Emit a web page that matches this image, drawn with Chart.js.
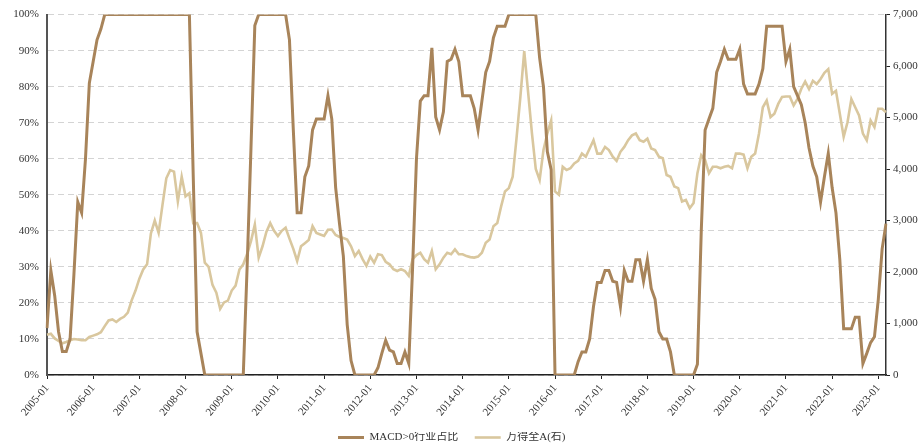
<!DOCTYPE html>
<html>
<head>
<meta charset="utf-8">
<script src="https://cdn.jsdelivr.net/npm/chart.js@4/dist/chart.umd.min.js"></script>
<style>
  html, body { margin: 0; padding: 0; background: #fff; }
  #wrap { width: 920px; height: 444px; }
</style>
</head>
<body>
<div id="wrap"><canvas id="macdChart" width="920" height="444"></canvas></div>
<script>
// month labels 2005-01 .. 2023-03
const firstYear = 2005;
const lastYear = 2023;
const lastMonth = 3;
const months = [];
for (let y = firstYear; y <= lastYear; y++) {
  for (let m = 1; m <= 12; m++) {
    if (y === lastYear && m > lastMonth) break;
    months.push(y + "-" + String(m).padStart(2, "0"));
  }
}

// MACD>0 share of industries, % (left axis)
const macdShare = [
  13, 29, 22, 12, 6.5, 6.5, 10, 28, 48, 45, 60, 81,                 // 2005
  87, 93, 96, 100, 100, 100, 100, 100, 100, 100, 100, 100,          // 2006
  100, 100, 100, 100, 100, 100, 100, 100, 100, 100, 100, 100,       // 2007
  100, 100, 55, 12, 6, 0, 0, 0, 0, 0, 0, 0,                         // 2008
  0, 0, 0, 0, 30, 63, 97, 100, 100, 100, 100, 100,                  // 2009
  100, 100, 100, 93, 68, 45, 45, 55, 58, 68, 71, 71,                // 2010
  71, 77.5, 71, 52, 42, 33, 14, 4, 0, 0, 0, 0,                      // 2011
  0, 0, 2, 6, 9.6, 6.9, 6.4, 3.2, 3.2, 6.4, 3.2, 30,                // 2012
  60, 76, 77.5, 77.5, 90.8, 71.6, 68, 73, 87, 87.6, 90.4, 87,       // 2013
  77.5, 77.5, 77.5, 74, 68, 76, 84, 87, 93.6, 96.8, 96.8, 96.8,     // 2014
  100, 100, 100, 100, 100, 100, 100, 100, 88, 80, 62, 57,           // 2015
  0, 0, 0, 0, 0, 0, 3.7, 6.4, 6.4, 10, 19, 25.7,                    // 2016
  25.7, 29, 29, 26, 25.7, 19, 29, 26, 26, 32, 32, 26,               // 2017
  32, 24, 21, 12, 10, 10, 6.4, 0, 0, 0, 0, 0,                       // 2018
  0, 3, 40, 68, 71, 74, 84, 87, 90.4, 87.6, 87.6, 87.6,             // 2019
  90.4, 80.7, 78, 78, 78, 80.7, 85, 96.8, 96.8, 96.8, 96.8, 96.8,   // 2020
  87, 90.4, 80, 77.5, 75, 70, 63, 58, 55, 48, 55, 61.5,             // 2021
  52, 45, 32, 12.8, 12.8, 12.8, 16, 16, 3.2, 6, 9, 10.6,            // 2022
  21, 35, 42                                                        // 2023
];

// Wind All A index (right axis)
const windA = [
  780, 800, 710, 660, 615, 640, 675, 700, 690, 675, 675, 740,
  765, 790, 830, 950, 1060, 1080, 1030, 1090, 1130, 1210, 1450, 1640,
  1870, 2050, 2150, 2750, 3000, 2760, 3300, 3820, 3980, 3950, 3370, 3850,
  3470, 3530, 2950, 2950, 2760, 2180, 2100, 1750, 1600, 1285, 1410, 1445,
  1640, 1735, 2050, 2150, 2350, 2600, 2920, 2280, 2500, 2780, 2950, 2800,
  2700, 2800, 2860, 2650, 2450, 2215, 2500, 2560, 2620, 2890, 2760, 2730,
  2700, 2820, 2825, 2720, 2680, 2660, 2630, 2500, 2310, 2410, 2250, 2120,
  2300, 2180, 2345, 2330, 2200, 2150, 2055, 2020, 2055, 2020, 1925, 2250,
  2330, 2375, 2250, 2180, 2410, 2055, 2150, 2280, 2375, 2345, 2440, 2345,
  2345, 2310, 2290, 2280, 2300, 2375, 2570, 2630, 2890, 2950, 3275, 3565,
  3630, 3850, 4600, 5400, 6290, 5500, 4700, 4000, 3790, 4370, 4690, 4945,
  3565, 3500, 4045, 3980, 4015, 4110, 4160, 4300, 4240, 4400, 4560, 4300,
  4300, 4430, 4370, 4240, 4160, 4335, 4430, 4560, 4655, 4690, 4560, 4530,
  4590, 4400, 4370, 4240, 4210, 3885, 3850, 3660, 3630, 3370, 3400, 3240,
  3340, 3920, 4270, 4175, 3920, 4045, 4045, 4015, 4045, 4060, 4015, 4300,
  4300, 4280, 4015, 4240, 4300, 4690, 5200, 5330, 5010, 5075, 5265, 5400,
  5410, 5410, 5235, 5360, 5560, 5700, 5555, 5715, 5650, 5750, 5870, 5940,
  5460, 5520, 5075, 4625, 4910, 5360, 5200, 5040, 4690, 4560, 4945, 4815,
  5170, 5170, 5105
];

const seriesNames = ["MACD>0行业占比", "万得全A(右)"];
const leftTicks = { min: 0, max: 100, step: 10 };
const rightTicks = { min: 0, max: 7000, step: 1000 };

const darkColor = "#a8845a";
const lightColor = "#d9c79e";
const fontFamily = '"Liberation Serif", "Noto Sans CJK SC", serif';
const textColor = "#333";

// nudge the legend down a little, closer to the bottom edge
const legendShift = {
  id: "legendShift",
  afterLayout(chart) {
    if (chart.legend) {
      chart.legend.top += 9;
      chart.legend.bottom += 9;
    }
  },
};

const ctx = document.getElementById("macdChart").getContext("2d");
new Chart(ctx, {
  type: "line",
  data: {
    labels: months,
    datasets: [
      {
        label: seriesNames[0],
        data: macdShare,
        yAxisID: "yLeft",
        borderColor: darkColor,
        backgroundColor: darkColor,
        borderWidth: 3,
        pointRadius: 0,
        tension: 0,
      },
      {
        label: seriesNames[1],
        data: windA,
        yAxisID: "yRight",
        borderColor: lightColor,
        backgroundColor: lightColor,
        borderWidth: 2.6,
        pointRadius: 0,
        tension: 0,
      },
    ],
  },
  options: {
    responsive: false,
    animation: false,
    devicePixelRatio: 1,
    layout: { padding: { top: 0, right: 0, bottom: 0, left: 0 } },
    plugins: {
      tooltip: { enabled: false },
      legend: {
        position: "bottom",
        labels: {
          usePointStyle: true,
          pointStyle: "line",
          pointStyleWidth: 26,
          padding: 0,
          color: textColor,
          font: { family: fontFamily, size: 11 },
          generateLabels: (chart) =>
            Chart.defaults.plugins.legend.labels.generateLabels(chart).map((l) => ({ ...l, text: l.text + "      " })),
        },
      },
    },
    scales: {
      x: {
        type: "category",
        offset: false,
        grid: {
          display: true,
          drawOnChartArea: false,
          drawTicks: true,
          tickLength: 4,
          tickColor: "#222",
        },
        border: { display: true, color: "#222", width: 1.5 },
        ticks: {
          autoSkip: false,
          minRotation: 50,
          maxRotation: 50,
          padding: 3,
          color: textColor,
          font: { family: fontFamily, size: 11 },
          callback: function (value) {
            const lab = this.getLabelForValue(value);
            return lab.endsWith("-01") ? lab : null;
          },
        },
        afterFit: (scale) => { scale.height = 48; },
      },
      yLeft: {
        position: "left",
        min: leftTicks.min,
        max: leftTicks.max,
        grid: {
          color: "#d4d4d4",
          lineWidth: 1,
          drawTicks: false,
        },
        border: { display: true, color: "#555", width: 2, dash: [6, 4] },
        ticks: {
          stepSize: leftTicks.step,
          padding: 8,
          color: textColor,
          font: { family: fontFamily, size: 11 },
          callback: (v) => v + "%",
        },
        afterFit: (scale) => { scale.width = 47; },
      },
      yRight: {
        position: "right",
        min: rightTicks.min,
        max: rightTicks.max,
        grid: {
          drawOnChartArea: false,
          drawTicks: true,
          tickLength: 4,
          tickColor: "#222",
        },
        border: { display: true, color: "#333", width: 1.5 },
        ticks: {
          stepSize: rightTicks.step,
          padding: 3,
          color: textColor,
          font: { family: fontFamily, size: 11 },
        },
        afterFit: (scale) => { scale.width = 34; },
      },
    },
  },
  plugins: [legendShift],
});
</script>
</body>
</html>
